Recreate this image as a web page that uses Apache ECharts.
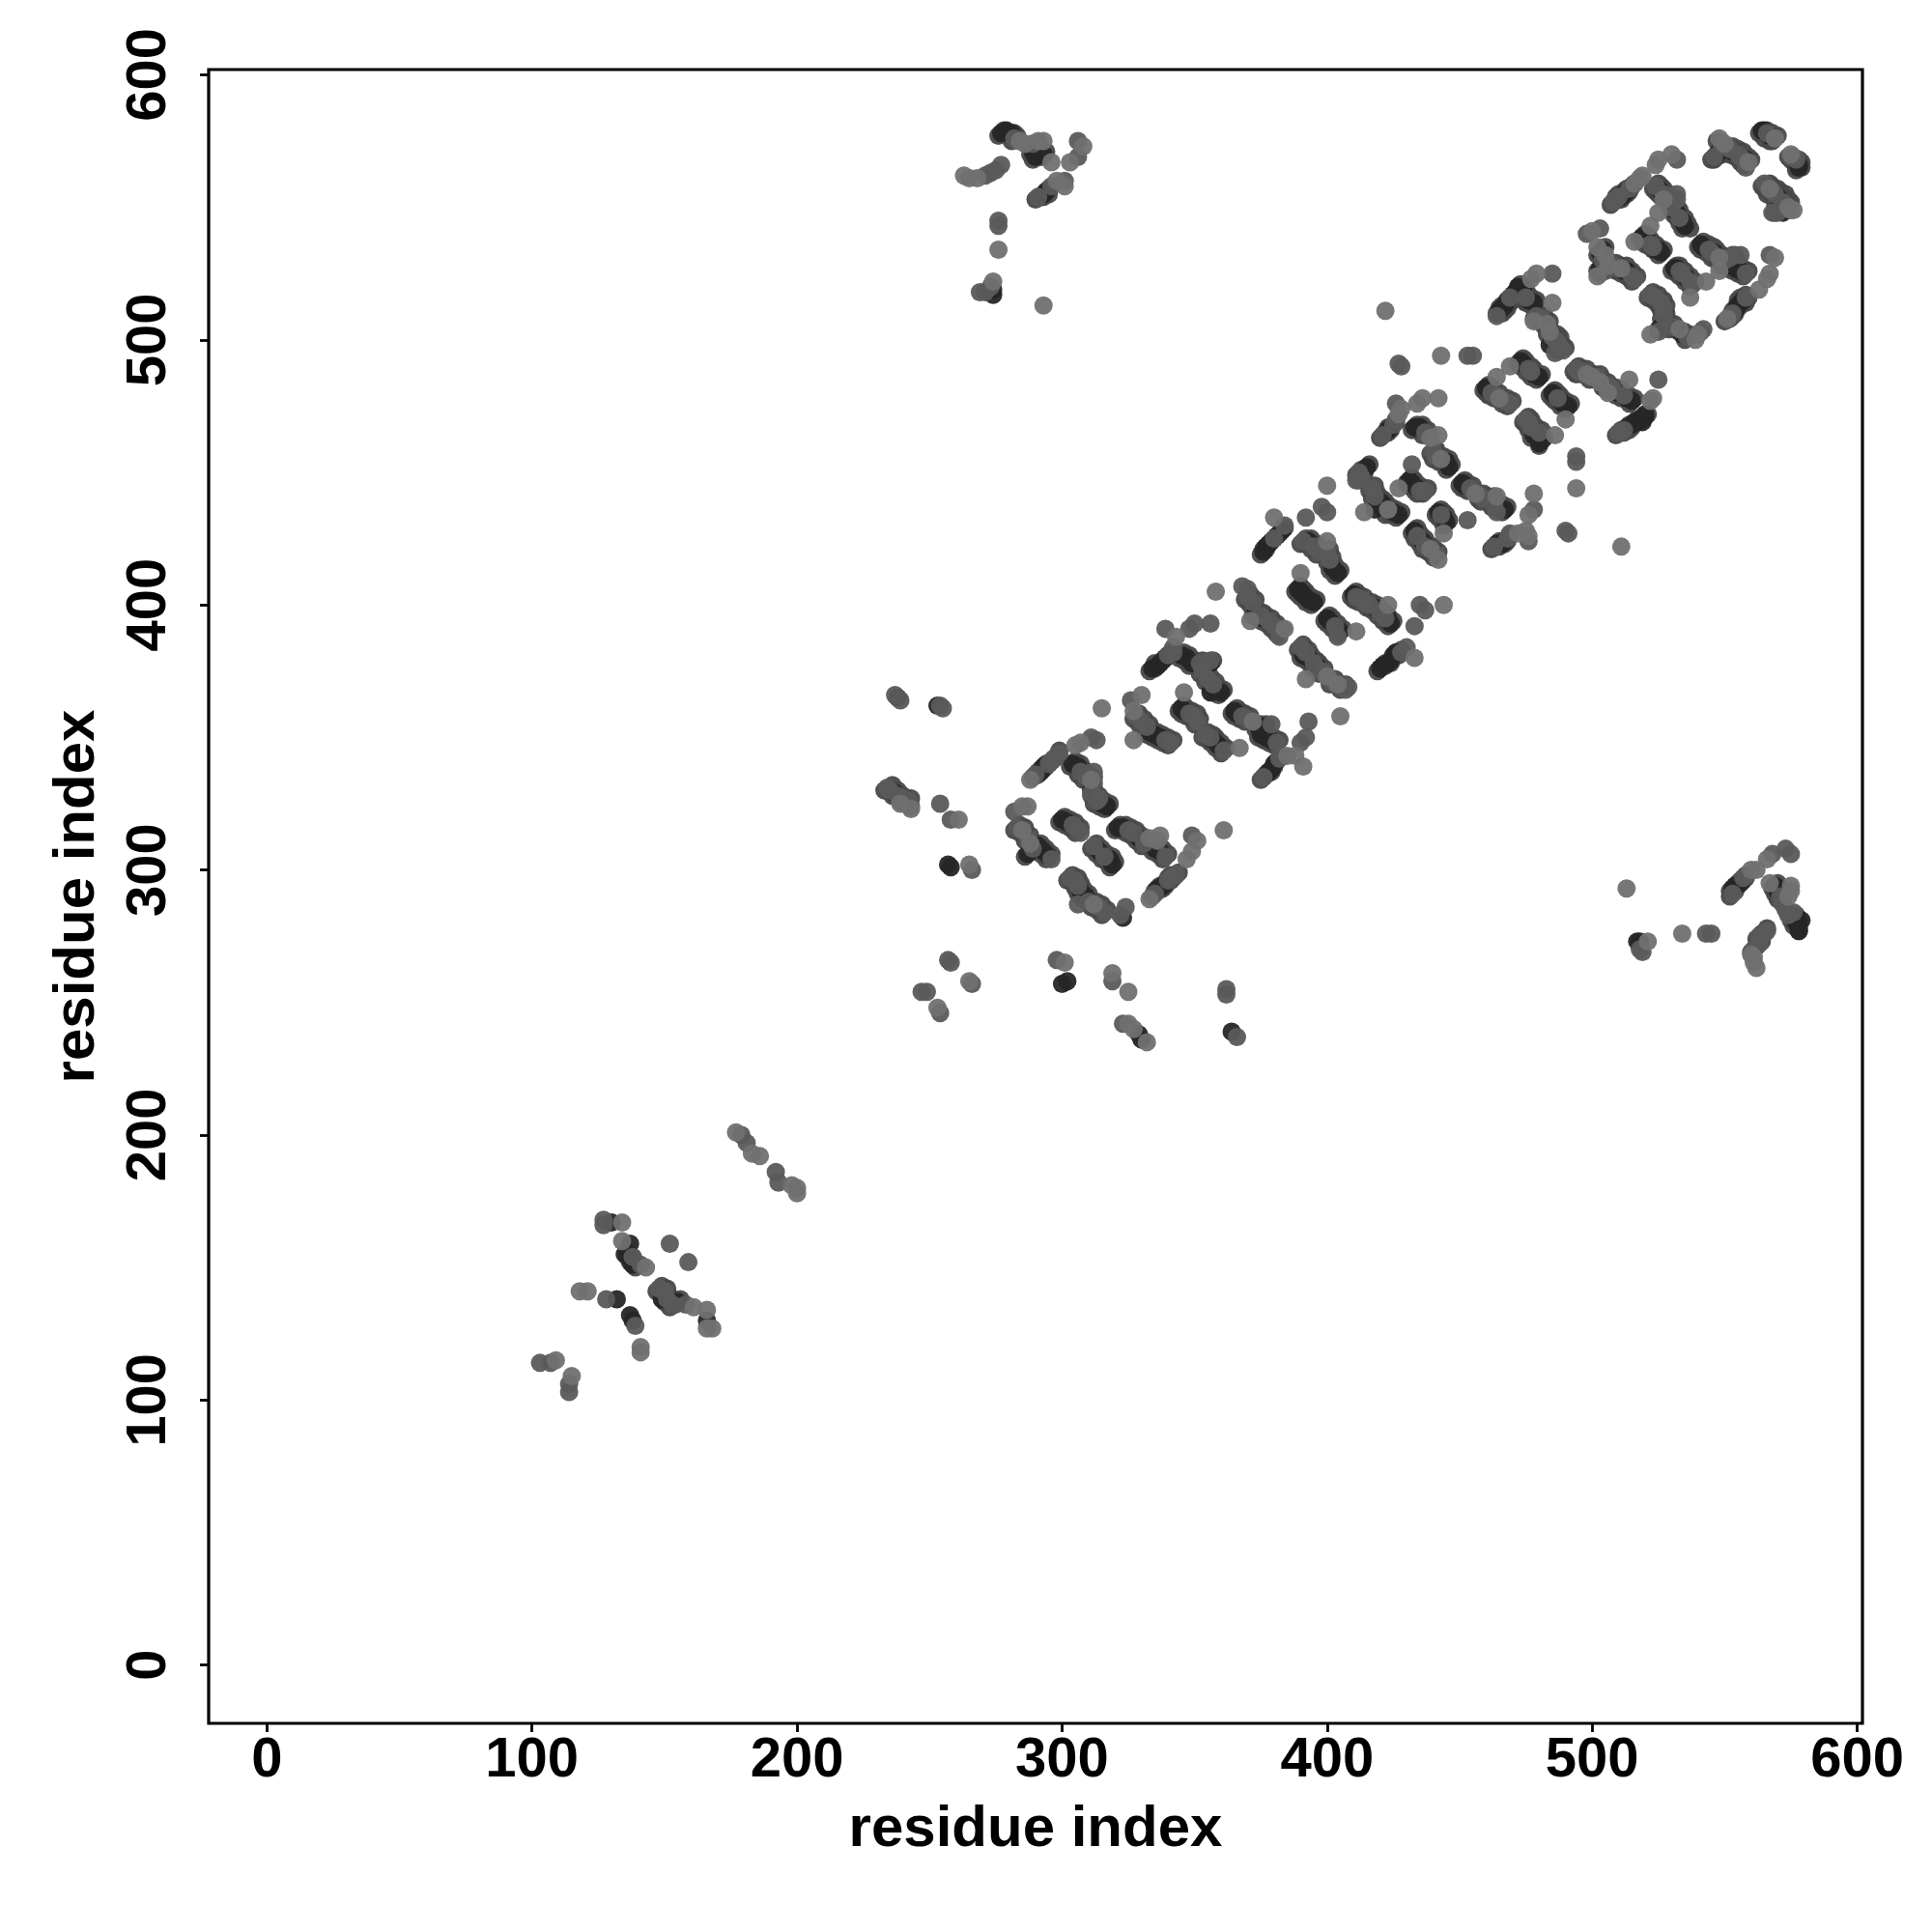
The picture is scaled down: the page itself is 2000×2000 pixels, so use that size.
<!DOCTYPE html>
<html><head><meta charset="utf-8">
<style>html,body{margin:0;padding:0;background:#fff}#c{width:2000px;height:2000px}</style>
<script src="https://cdn.jsdelivr.net/npm/echarts@6/dist/echarts.min.js"></script>
</head><body><div id="c"></div>
<script>
const tickValues = [0,100,200,300,400,500,600];
const axisTitle = "residue index";
const rimPts = [
[563,578],[565,576],[567,575],[568,575],[566,579],[568,578],[570,577],[574,569],[575,568],[576,567],[577,565],[577,564],[578,568],[579,567],[579,565],
[547,575],[545,568],[546,568],[547,569],[549,570],[551,571],[552,570],[554,569],[556,567],[557,566],[549,572],[551,573],[553,573],[555,572],[557,571],[559,569],[560,568],
[564,558],[565,557],[566,555],[568,554],[569,552],[571,551],[573,549],[567,559],[568,558],[570,557],[571,556],[573,555],[574,553],[575,552],[569,548],
[507,551],[508,552],[510,553],[511,553],[513,555],[514,556],[509,554],[510,555],[512,556],[513,557],[515,558],[516,559],
[523,557],[524,556],[525,555],[526,554],[528,553],[529,551],[530,549],[531,547],[532,546],[533,544],[534,542],[525,559],[526,558],[527,557],[529,555],[530,553],[531,552],[532,550],[533,549],[535,546],[536,544],[537,542],
[518,538],[519,537],[520,536],[522,535],[523,534],[525,532],[520,540],[521,539],[522,538],[524,536],[525,535],[527,534],
[502,532],[503,532],[502,526],[503,525],[504,527],[505,528],[505,535],[504,533],[507,527],[509,526],[511,525],[513,524],[515,522],[509,529],[511,528],[513,528],[515,526],[517,524],
[530,526],[532,525],[533,524],[535,522],[537,520],[532,528],[533,528],[535,526],[537,524],[539,522],
[540,535],[541,534],[543,533],[545,531],[547,530],[549,528],[552,527],[553,526],[555,525],[557,524],[542,537],[544,536],[546,535],[547,534],[549,532],[551,530],[553,532],[555,529],[557,527],[559,526],
[550,507],[552,508],[553,509],[554,512],[555,512],[556,513],[557,514],[554,510],[558,514],[559,516],[553,511],[555,515],[556,516],[558,517],
[521,516],[523,515],[525,513],[526,511],[526,508],[525,504],[527,505],[523,518],[525,517],[527,515],[528,513],[528,510],[529,507],[529,504],[531,504],[533,503],[535,500],[531,506],[535,503],[537,502],
[464,510],[465,512],[466,513],[468,514],[469,514],[470,517],[472,519],[473,521],[475,520],[466,510],[467,511],[468,512],[470,515],[472,517],[473,519],
[474,515],[475,514],[477,513],[476,517],[477,516],[479,515],[478,508],[480,507],[482,505],[480,510],[482,509],[484,507],[483,502],[485,500],[486,499],[487,496],[485,503],[487,502],[488,501],[489,498],[490,497],
[472,491],[473,490],[475,488],[477,486],[479,485],[474,493],[475,492],[477,490],[478,489],[481,487],
[459,481],[460,480],[461,479],[463,478],[466,476],[468,475],[461,483],[462,482],[463,481],[465,480],[468,478],[470,477],
[484,479],[485,478],[486,477],[488,475],[490,474],[486,481],[487,480],[488,479],[490,477],[492,476],
[493,488],[494,487],[496,487],[499,485],[501,485],[504,482],[506,481],[509,479],[511,478],[514,476],[495,490],[496,489],[498,489],[501,487],[503,487],[504,485],[506,484],[509,482],[511,481],[514,479],[516,478],
[519,470],[517,469],[515,467],[514,466],[512,465],[509,464],[521,472],[519,471],[517,470],[516,469],[514,468],[511,466],
[474,469],[475,468],[476,466],[477,463],[479,464],[480,460],[476,471],[477,470],[478,468],[479,467],[481,466],[482,463],
[450,445],[451,444],[453,443],[457,440],[458,439],[461,439],[462,437],[464,436],[466,435],[452,447],[453,446],[455,445],[459,442],[460,441],[463,441],[464,439],[466,438],[468,437],
[462,421],[463,422],[465,422],[467,423],[468,424],[464,423],[465,424],[467,424],[468,425],[469,426],
[420,463],[421,464],[423,465],[424,466],[422,465],[423,467],[425,468],[426,469],[432,466],[434,466],[436,464],[434,468],[436,468],[438,466],[439,457],[440,455],[442,454],[444,453],[445,451],[441,459],[442,457],[444,456],[446,455],[447,453],
[414,451],[411,449],[412,447],[416,443],[417,440],[419,438],[420,437],[422,434],[424,434],[426,433],[416,453],[413,451],[414,449],[418,445],[419,442],[421,440],[422,439],[424,437],[426,436],[428,435],
[430,446],[431,445],[433,443],[434,442],[436,442],[432,448],[433,447],[435,445],[436,444],[438,444],
[441,434],[442,433],[443,432],[444,430],[443,436],[444,435],[445,434],[446,432],
[432,427],[433,425],[435,423],[436,421],[438,420],[440,418],[434,429],[435,427],[437,425],[438,423],[440,422],[442,420],
[375,419],[376,421],[377,422],[379,424],[380,425],[382,427],[377,421],[378,423],[379,424],[381,426],[382,427],[384,429],
[390,423],[392,423],[394,421],[396,419],[399,419],[400,416],[401,413],[403,411],[392,425],[394,425],[396,423],[398,421],[401,421],[402,418],[403,415],[405,413],
[369,402],[371,400],[372,396],[374,395],[375,394],[377,393],[379,391],[381,389],[371,404],[373,402],[374,398],[376,397],[377,396],[379,395],[381,393],[383,391],
[388,405],[389,404],[390,403],[392,401],[394,400],[399,394],[400,393],[402,391],[404,389],[390,407],[391,406],[392,405],[394,403],[396,402],[401,396],[402,395],[404,393],[406,391],
[409,403],[410,402],[412,401],[415,399],[417,398],[419,396],[421,394],[423,392],[411,405],[412,404],[414,403],[417,401],[419,400],[421,398],[423,396],[425,394],
[419,375],[420,376],[422,377],[424,378],[425,380],[427,381],[421,377],[422,378],[424,379],[425,380],[426,382],[428,383],
[389,383],[391,381],[390,380],[392,379],[394,377],[395,376],[397,374],[401,370],[405,368],[391,385],[393,383],[392,382],[394,381],[396,379],[397,378],[399,376],[403,372],[407,370],
[375,334],[376,335],[377,336],[379,337],[380,339],[381,341],[378,337],[380,339],[383,343],
[364,359],[365,358],[367,357],[369,356],[373,353],[375,353],[374,350],[376,349],[378,348],[380,347],[366,361],[367,360],[369,359],[371,358],[375,355],[377,355],[376,352],[378,351],[380,350],[382,349],
[344,360],[345,359],[347,358],[349,357],[350,355],[346,362],[347,361],[349,360],[351,359],[352,357],
[353,350],[355,349],[356,348],[358,346],[360,344],[355,352],[357,351],[358,350],[360,348],[362,346],
[344,380],[346,379],[348,377],[351,377],[355,377],[352,374],[354,371],[356,369],[357,367],[359,366],[346,382],[348,381],[350,379],[353,379],[357,379],[354,376],[356,373],[358,371],[359,369],[361,368],
[333,375],[335,376],[336,377],[338,379],[339,380],[335,378],[337,378],[338,379],[340,381],[341,382],
[327,357],[329,355],[331,353],[332,351],[334,350],[336,349],[338,348],[340,347],[329,359],[331,357],[333,355],[334,353],[336,352],[338,351],[340,350],[342,349],
[289,335],[291,336],[292,338],[294,339],[295,340],[297,342],[291,337],[293,338],[294,340],[296,341],[297,342],[299,345],
[303,339],[305,338],[306,336],[308,334],[310,333],[311,328],[312,325],[314,324],[316,323],[305,341],[307,340],[308,338],[310,336],[312,335],[312,331],[314,328],[316,326],[318,325],
[282,315],[284,314],[286,311],[288,307],[286,305],[290,308],[292,306],[294,304],[284,317],[286,316],[288,313],[290,310],[292,310],[294,308],[296,306],
[299,318],[301,317],[303,316],[305,314],[301,320],[303,319],[305,318],[307,316],
[311,308],[313,306],[315,304],[317,303],[318,301],[313,310],[315,308],[317,306],[319,305],[320,303],
[320,315],[322,315],[324,314],[326,313],[328,311],[330,309],[334,307],[336,306],[338,304],[322,317],[324,317],[326,316],[328,315],[330,313],[332,311],[336,309],[338,308],[340,306],
[334,290],[335,292],[337,293],[338,293],[339,294],[341,296],[342,297],[336,292],[337,294],[339,295],[340,297],[341,298],[344,299],
[302,296],[304,295],[305,293],[306,291],[308,289],[311,286],[313,285],[315,283],[304,298],[306,297],[307,295],[308,293],[310,291],[313,288],[315,287],[317,285],
[236,328],[237,328],[239,326],[241,325],[233,330],[236,332],[238,330],[240,328],[243,327],
[136,154],[137,152],[139,150],[136,156],[138,154],[139,152],[147,141],[149,140],[150,137],[152,135],[154,136],[149,143],[151,142],[152,139],[154,137],[156,138],
[276,577],[278,578],[280,577],[281,575],[278,579],[282,578],[283,577],[288,570],[289,568],[292,569],[290,572],[291,570],[294,571],[292,554],[293,554],[295,555],[290,553],[294,556],[295,557],
[552,290],[552,292],[553,293],[555,294],[556,296],[554,292],[554,294],[555,295],[557,296],[558,297],
[568,293],[569,291],[570,289],[575,281],[576,279],[578,277],[570,295],[571,293],[572,291],[577,283],[578,281],
[562,274],[564,275],[562,271],[560,269],[564,276],[566,278],[564,273]
];
const lightPts = [
[522,543],[516,537],[548,526],[500,541],[502,535],[505,532],[502,524],[506,528],[511,527],[537,516],[543,522],[548,531],
[551,508],[567,525],[566,523],[563,519],[569,531],[533,504],[522,502],[539,500],[540,502],[479,525],[477,523],[485,514],[478,507],
[483,506],[484,503],[443,494],[469,490],[464,486],[465,478],[490,470],[498,487],[500,486],[503,484],[506,480],[514,485],[523,478],[522,477],
[486,464],[494,444],[511,422],[478,442],[476,434],[456,442],[464,441],[472,427],[475,428],[476,426],[530,570],[524,566],[525,568],[518,561],[519,562],[516,559],
[527,553],[525,548],[550,574],[548,576],[567,557],[575,570],[574,550],[575,549],
[422,511],[428,474],[427,472],[434,476],[436,478],[442,478],[439,463],[442,464],[443,455],[414,435],[423,436],[427,444],[444,427],[439,421],[442,417],
[380,433],[400,445],[400,424],[390,412],[358,405],[371,394],[384,391],[372,356],[392,372],[400,373],[404,370],[405,358],[411,390],[423,400],[433,380],[444,400],
[385,343],[388,343],[391,339],[346,367],[367,346],[343,388],[330,366],[327,360],[327,349],[315,361],[305,347],[307,348],[288,334],[311,334],[285,324],[287,324],
[285,315],[288,310],[333,312],[337,313],[336,311],[351,311],[349,307],[347,304],[361,315],[333,289],[312,287],
[239,325],[243,323],[261,319],[265,302],[265,258],[253,248],[301,265],[319,261],[325,254],[325,242],[327,240],[332,235],
[177,201],[183,193],[186,192],[198,181],[200,180],[200,178],[134,167],[134,160],[143,150],[161,135],[166,134],[166,127],[168,127],[118,141],[121,141],[141,120],[141,118],[109,115],[115,109],
[284,575],[286,574],[291,575],[293,575],[296,567],[308,573],[303,567],[298,560],[301,558],[263,562],[265,561],[268,561],[276,534],[274,522],[293,513],
[513,293],[521,273],[534,276],[560,300],[562,300],[566,304],[567,295],[575,294],[575,292],[574,290],[560,268],[561,265],[562,263],[561,267],[569,576],[559,567],[576,549]
];
const midPts = [
[566,578],[575,569],[576,569],[577,568],[546,569],[549,573],[552,572],[555,570],[556,569],[558,565],[565,559],[566,558],[568,556],[569,555],[572,552],[573,551],[568,548],[570,548],
[508,552],[509,553],[510,554],[514,557],[532,568],[524,558],[527,555],[530,550],[532,555],[532,553],[533,546],[522,536],[523,535],[498,540],[503,542],[504,530],[508,528],[510,527],[515,524],[516,523],[505,526],
[533,526],[534,525],[537,522],[538,521],[544,534],[545,533],[550,530],[552,531],[554,532],[556,532],[558,525],[552,509],[553,510],[558,516],[567,532],
[522,517],[524,516],[526,514],[527,512],[527,509],[525,503],[530,505],[536,501],[542,504],[541,503],[485,525],[464,509],[469,516],[475,516],[479,509],[481,508],[485,501],[486,500],[487,499],[488,497],[486,495],[489,496],
[453,494],[455,494],[476,489],[477,488],[462,480],[464,479],[467,477],[469,476],[487,478],[494,489],[495,488],[497,488],[502,486],[505,483],[507,482],[508,481],[512,479],[525,485],[512,466],[510,465],
[475,470],[476,469],[477,467],[480,465],[494,456],[494,454],[478,436],[490,428],[491,427],[454,444],[458,441],[459,440],[462,440],[463,438],[464,435],[463,422],[468,425],[469,427],[476,424],[453,432],
[427,491],[428,490],[426,476],[421,464],[425,468],[426,470],[437,465],[440,458],[441,456],[432,453],[412,450],[413,448],[411,447],[417,444],[418,441],[435,443],[437,443],[443,434],[434,426],[437,422],[441,419],
[384,430],[380,425],[392,433],[398,437],[400,435],[391,424],[395,422],[397,420],[400,420],[401,417],[368,407],[370,406],[370,403],[372,401],[375,396],[378,394],[380,392],[382,390],[382,388],
[403,392],[404,388],[411,403],[413,402],[414,401],[416,400],[420,397],[422,395],[435,400],[437,398],[433,392],[428,382],[430,384],
[390,384],[392,382],[395,378],[398,375],[402,371],[406,369],[408,369],[407,368],[382,342],[376,335],[390,348],[392,350],[393,356],[368,358],[370,357],[379,355],[381,348],[348,359],[350,358],[351,356],[354,351],[356,350],[361,345],
[356,393],[350,393],[348,391],[339,391],[342,384],[356,379],[353,375],[355,372],[357,370],[352,378],[340,381],[342,382],[326,364],[328,358],[330,356],[332,354],[339,349],[341,348],[311,350],[313,349],
[290,336],[295,340],[296,341],[298,343],[299,344],[307,337],[309,335],[312,337],[312,333],[311,329],[313,326],[314,327],[282,322],[283,316],[287,312],[289,308],[296,304],[304,317],[306,315],[307,314],
[312,309],[316,305],[325,315],[327,314],[331,310],[339,305],[349,313],[335,291],[340,296],[341,297],[343,298],[303,297],[305,296],[306,294],[306,287],[310,288],[314,286],[316,284],[322,283],[324,286],
[237,366],[239,364],[254,362],[255,361],[234,331],[235,330],[238,328],[240,327],[242,326],[243,324],[254,325],[258,319],[266,300],[257,266],[258,265],[266,257],[247,254],[249,254],[254,246],[298,266],[319,258],[323,242],[362,255],[362,253],[366,237],
[179,200],[181,197],[192,186],[193,182],[127,168],[127,166],[152,159],[159,152],[138,154],[141,151],[148,142],[150,141],[151,138],[153,136],[158,136],[128,138],[139,128],[103,114],[107,114],[114,106],[114,103],
[282,576],[289,574],[306,575],[306,569],[291,554],[296,558],[301,560],[271,562],[273,563],[275,564],[277,566],[276,545],[276,543],[269,518],[271,518],[273,520],
[518,270],[519,269],[543,276],[545,276],[553,291],[557,297],[558,298],[568,306],[573,308],[575,306],[571,290],[572,287],[573,285],[574,283],[576,284],[563,275],[565,276],[566,277],[563,272],[561,270]
];
const darkPts = [
[564,579],[565,579],[567,577],[578,566],[578,565],[547,570],[548,571],[553,571],[558,568],[570,554],[571,553],[572,548],
[511,554],[512,555],[513,556],[515,558],[525,557],[526,556],[528,554],[529,552],[531,549],[532,548],[534,545],[535,543],[519,539],[520,538],[521,537],[524,534],[525,534],[526,533],
[503,533],[504,534],[503,527],[504,526],[512,526],[513,526],[531,527],[532,527],[535,524],[536,523],[541,536],[542,535],[546,533],[551,529],[553,528],[554,527],[556,526],
[554,511],[555,513],[556,514],[557,515],[526,505],[528,506],[534,502],[465,511],[466,512],[467,513],[468,515],[471,518],[472,520],[474,519],[476,515],[478,514],[484,498],
[473,492],[474,491],[478,487],[480,486],[460,482],[461,481],[485,480],[486,479],[488,477],[489,476],[491,475],[510,480],[513,478],[515,477],[520,471],[518,470],[519,469],[516,469],[515,468],[513,467],[520,472],
[478,466],[478,464],[481,462],[480,461],[451,446],[452,445],[465,437],[467,436],[464,423],[466,423],[467,424],[422,465],[423,466],[424,467],[433,467],[435,467],[445,454],[446,452],[415,452],
[420,439],[421,438],[425,435],[427,434],[418,436],[431,447],[432,446],[434,444],[442,435],[444,433],[445,431],[433,428],[436,424],
[376,420],[377,422],[378,423],[381,426],[383,428],[393,424],[402,414],[404,412],[373,397],[376,395],[389,406],[390,405],[391,404],[393,402],[395,401],[400,395],[401,394],[405,390],
[410,404],[418,399],[424,393],[423,395],[420,376],[421,377],[423,378],[424,379],[425,381],[426,382],[391,381],[393,380],[396,377],[377,336],[378,337],[379,338],[380,340],
[365,360],[366,359],[374,354],[376,354],[375,351],[377,350],[379,349],[345,361],[346,360],[357,349],[359,347],[345,381],[347,380],[349,378],[356,378],[358,368],[360,367],[356,367],
[334,376],[336,377],[337,378],[339,380],[333,352],[335,351],[337,350],[292,337],[293,339],[304,340],[306,339],[315,325],[317,324],[311,330],[287,306],[291,309],[293,307],[295,305],
[300,319],[302,318],[314,307],[318,304],[319,302],[321,316],[323,316],[329,312],[335,308],[337,307],[336,293],[338,294],[339,295],[307,292],[309,290],[323,282],
[238,365],[253,362],[237,329],[257,302],[258,301],[300,257],[302,258],[329,238],[330,236],[364,239],
[130,167],[137,159],[135,155],[137,153],[138,151],[149,138],[155,137],[166,130],[132,138],[137,132],[138,130],
[277,578],[279,579],[281,578],[289,571],[290,569],[293,570],[293,555],[294,556],[274,517],[274,519],
[517,273],[518,273],[553,293],[554,294],[556,295],[569,294],[570,292],[576,282],[577,280],[579,281],[578,278],[578,277]
];
const chart = echarts.init(document.getElementById('c'), null, {renderer:'canvas'});
const font = 'Liberation Sans';
function axis(isY){
  return {
    type:'value', min:-22, max:602, name:axisTitle, nameLocation:'middle',
    nameGap: isY ? 106 : 80, nameRotate: isY ? 90 : 0,
    nameTextStyle:{fontFamily:font,fontWeight:'bold',fontSize:60,color:'#000'},
    axisLine:{show:false,onZero:false}, splitLine:{show:false},
    axisTick:{show:true,length:9,inside:false,customValues:tickValues,lineStyle:{color:'#000',width:2.8}},
    axisLabel:{show:true,customValues:tickValues,margin:isY?61:10,rotate:isY?90:0,
      fontFamily:font,fontWeight:'bold',fontSize:58,color:'#000',
      verticalAlign:isY?'middle':'top',align:'center',hideOverlap:false}
  };
}
function pts(name,arr,color){
  return {name,type:'scatter',data:arr,symbol:'circle',symbolSize:19,silent:true,
    itemStyle:{color,opacity:0.95,borderWidth:0},animation:false};
}
chart.setOption({
  animation:false, backgroundColor:'#fff',
  grid:{left:216,right:72,top:72,bottom:216,show:true,borderColor:'#000',borderWidth:3.2,backgroundColor:'transparent'},
  xAxis:axis(false), yAxis:axis(true),
  series:[pts('rim',rimPts,'#484848'),pts('dark',darkPts,'#262626'),pts('mid',midPts,'#5a5a5a'),pts('light',lightPts,'#707070')]
});
</script></body></html>
